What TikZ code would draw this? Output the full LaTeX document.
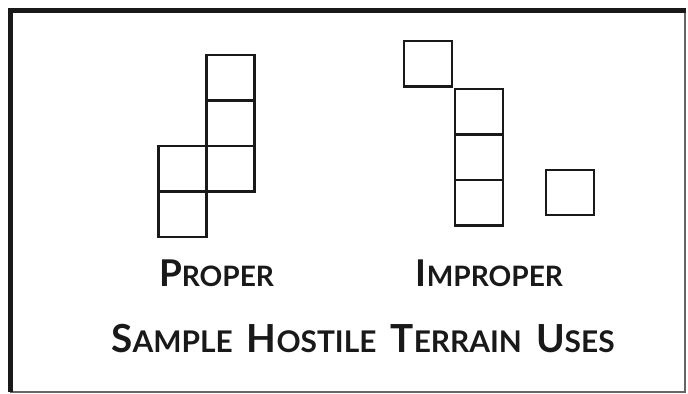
\documentclass[tikz,border=0pt]{standalone}
\usepackage{fontspec}
\setmainfont{Lato}
\usepackage{tikz}
\usetikzlibrary{positioning}
\definecolor{InkBlack}{RGB}{25,25,25}
\newcommand{\capword}[2]{{\fontsize{21}{21}\selectfont #1}{\fontsize{16}{16}\selectfont #2}}
\newcommand{\bigcapword}[2]{{\fontsize{22}{22}\selectfont #1}{\fontsize{17}{17}\selectfont #2}}
\tikzset{
    cell/.style={rectangle, draw=InkBlack, line width=0.05cm, minimum width=0.96cm, minimum height=0.91cm, inner sep=0pt, outer sep=0pt},
    caption/.style={anchor=base, inner sep=0pt, text=InkBlack, font=\bfseries}
}

\begin{document}
\begin{tikzpicture}[x=0.02cm, y=-0.02cm]
        \useasboundingbox (0,0) rectangle (688,394);
        % --- KHUNG ---
        \draw[line width=0.04cm, black!60] (10.5,10.5) rectangle (685,392);
        \draw[line width=0.1cm, InkBlack] (10.5,392) -- (10.5,10.5) -- (686,10.5);

        % --- PROPER ---
        \node[cell] (p1) at (230.5,78) {};
        \node[cell, below=0pt of p1] (p2) {};
        \node[cell, below=0pt of p2] (p3) {};
        \node[cell, left=0pt of p3] (p4) {};
        \node[cell, below=0pt of p4] (p5) {};

        % --- IMPROPER ---
        \node[cell] (q1) at (428,64) {};
        \node[cell] (q2) at (479,112) {};
        \node[cell, below=0pt of q2] (q3) {};
        \node[cell, below=0pt of q3] (q4) {};
        \node[cell] (q5) at (570,192.5) {};

        % --- NHAN ---
        \node[caption] (proper) at (216.5,287) {\capword{P}{ROPER}};
        \node[caption] (improper) at (489.5,287) {\capword{I}{MPROPER}};
        \node[caption] (title) at (363,352) {\bigcapword{S}{AMPLE}\hspace{8pt}\bigcapword{H}{OSTILE}\hspace{8pt}\bigcapword{T}{ERRAIN}\hspace{8pt}\bigcapword{U}{SES}};
    \end{tikzpicture}
\end{document}
